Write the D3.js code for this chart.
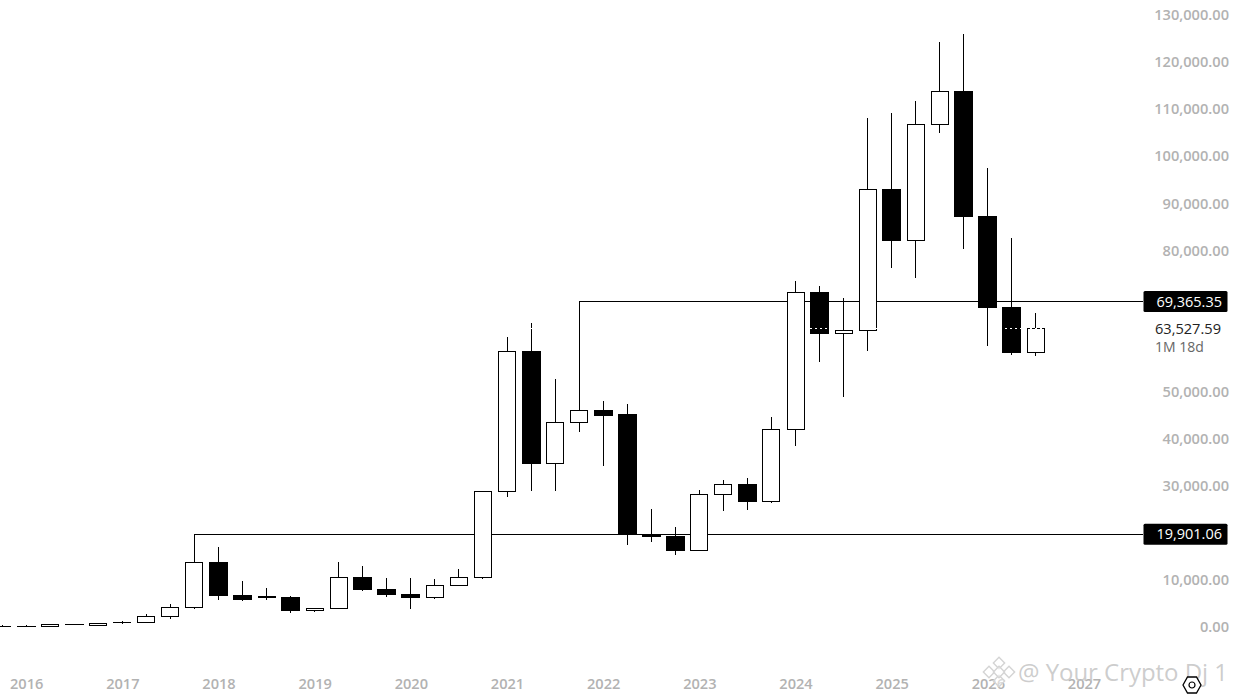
<!DOCTYPE html>
<html>
<head>
<meta charset="utf-8">
<title>BTC quarterly</title>
<script src="https://cdn.jsdelivr.net/npm/d3@7"></script>
<style>
html, body { margin: 0; padding: 0; background: #fff; overflow: hidden; }
svg { display: block; font-family: "Open Sans", sans-serif; }
.axis text { fill: #b2b2b2; font-size: 14.6px; font-weight: 600; font-family: "Open Sans", sans-serif; }
.axis path, .axis line { display: none; }
</style>
</head>
<body>
<div id="chart"></div>
<script>
// quarters as decimal years, one per candle
var periods = [2015.75, 2016, 2016.25, 2016.5, 2016.75, 2017, 2017.25, 2017.5, 2017.75,
	2018, 2018.25, 2018.5, 2018.75, 2019, 2019.25, 2019.5, 2019.75,
	2020, 2020.25, 2020.5, 2020.75, 2021, 2021.25, 2021.5, 2021.75,
	2022, 2022.25, 2022.5, 2022.75, 2023, 2023.25, 2023.5, 2023.75,
	2024, 2024.25, 2024.5, 2024.75, 2025, 2025.25, 2025.5, 2025.75,
	2026, 2026.25, 2026.5];
var opens = [330, 370, 300, 760, 520, 1190, 1125, 2484, 4395,
	13950, 6900, 6390, 6580, 3690, 4180, 10760, 8130,
	7190, 6410, 9130, 10770, 29000, 58740, 34880, 43670,
	46220, 45430, 19810, 19530, 16500, 28380, 30480, 26810,
	42250, 71270, 62480, 63200, 93250, 82370, 107000, 114000,
	87470, 68000, 58500];
var highs = [570, 570, 700, 780, 998, 1480, 2900, 5030, 19901.06,
	17130, 9980, 8430, 6800, 4200, 13950, 13100, 10550,
	10550, 10330, 12460, 29200, 61720, 64900, 52860, 69365.35,
	48200, 47550, 25260, 21380, 29300, 31420, 31780, 44800,
	73670, 72610, 70060, 108270, 109330, 111880, 124400, 126100,
	97660, 82800, 66870];
var lows = [320, 330, 300, 740, 520, 900, 1060, 1975, 4100,
	6000, 5800, 5900, 3200, 3300, 4000, 7850, 6640,
	4100, 6220, 9000, 10470, 27800, 29080, 29080, 41670,
	34460, 17690, 18320, 15560, 16500, 24900, 25120, 26600,
	38640, 56540, 49100, 58870, 76430, 74300, 105100, 80460,
	59870, 57900, 57750];
var closes = [370, 340, 700, 740, 980, 1230, 2484, 4395, 13950,
	6900, 6150, 6626, 3690, 4180, 10760, 8130, 7190,
	6410, 9130, 10770, 29000, 58740, 34880, 43670, 46220,
	45220, 19890, 19380, 16410, 28380, 30510, 26810, 42250,
	71270, 62480, 63200, 93250, 82370, 107000, 114000, 87470,
	68000, 58450, 63527.59];

var priceTicks = [0, 10000, 30000, 40000, 50000, 80000, 90000, 100000, 110000, 120000, 130000];
var yearTicks = [2016, 2017, 2018, 2019, 2020, 2021, 2022, 2023, 2024, 2025, 2026, 2027];

// the two highs that get a horizontal line and a label on the scale
var levels = [
	{ start: 2017.75, price: 19901.06 },
	{ start: 2021.75, price: 69365.35 }
];
var lastPrice = 63527.59;
var countdown = "1M 18d";
var watermark = "@ Your Crypto Dj 1";

var width = 1237;
var height = 697;
var scaleX = 1143; // left edge of the price labels

var fmt = d3.format(",.2f");

var x = d3.scaleLinear().domain([2016, 2027]).range([26.2, 1084]);
var y = d3.scaleLinear().domain([0, 130000]).range([628, 16.1]);

var svg = d3.select("#chart").append("svg")
	.attr("width", width)
	.attr("height", height);

// level lines sit behind the candles
svg.selectAll(".level")
	.data(levels)
	.enter().append("line")
	.attr("class", "level")
	.attr("x1", function(d) { return x(d.start); })
	.attr("x2", scaleX)
	.attr("y1", function(d) { return y(d.price); })
	.attr("y2", function(d) { return y(d.price); })
	.attr("stroke", "#000")
	.attr("shape-rendering", "crispEdges");

var candles = svg.selectAll(".candle")
	.data(periods)
	.enter().append("g")
	.attr("class", "candle")
	.attr("shape-rendering", "crispEdges");

candles.append("line")
	.attr("x1", function(d) { return x(d); })
	.attr("x2", function(d) { return x(d); })
	.attr("y1", function(d, i) { return y(highs[i]); })
	.attr("y2", function(d, i) { return y(lows[i]); })
	.attr("stroke", "#000");

candles.append("rect")
	.attr("x", function(d, i) { return x(d) - (closes[i] >= opens[i] ? 8.5 : 9); })
	.attr("width", function(d, i) { return closes[i] >= opens[i] ? 17 : 18; })
	.attr("y", function(d, i) { return y(Math.max(opens[i], closes[i])); })
	.attr("height", function(d, i) { return Math.abs(y(opens[i]) - y(closes[i])); })
	.attr("fill", function(d, i) { return closes[i] >= opens[i] ? "#fff" : "#000"; })
	.attr("stroke", "#000");

// white dotted last price line, only shows where it crosses something black
svg.append("line")
	.attr("x1", 0)
	.attr("x2", scaleX)
	.attr("y1", y(lastPrice))
	.attr("y2", y(lastPrice))
	.attr("stroke", "#fff")
	.attr("stroke-dasharray", "2,3")
	.attr("shape-rendering", "crispEdges");

svg.append("g")
	.attr("class", "axis")
	.attr("transform", "translate(1229,-1)")
	.call(d3.axisLeft(y).tickValues(priceTicks).tickFormat(fmt).tickSize(0).tickPadding(0));

svg.append("g")
	.attr("class", "axis")
	.attr("transform", "translate(0,679)")
	.call(d3.axisBottom(x).tickValues(yearTicks).tickFormat(d3.format("d")).tickSize(0).tickPadding(0));

// black price tags
var tags = svg.selectAll(".tag")
	.data(levels)
	.enter().append("g")
	.attr("class", "tag")
	.attr("transform", function(d) { return "translate(" + scaleX + "," + y(d.price) + ")"; });

tags.append("rect")
	.attr("x", 0.5)
	.attr("y", -10.5)
	.attr("width", 84)
	.attr("height", 21)
	.attr("rx", 1.5)
	.attr("fill", "#000");

tags.append("text")
	.attr("x", 79)
	.attr("dy", "0.35em")
	.attr("text-anchor", "end")
	.attr("fill", "#fff")
	.attr("font-size", 14.5)
	.attr("font-weight", 500)
	.text(function(d) { return fmt(d.price); });

svg.append("text")
	.attr("x", 1221)
	.attr("y", y(lastPrice))
	.attr("dy", "0.35em")
	.attr("text-anchor", "end")
	.attr("fill", "#222")
	.attr("font-size", 14.6)
	.text(fmt(lastPrice));

svg.append("text")
	.attr("x", 1155)
	.attr("y", y(lastPrice) + 18)
	.attr("dy", "0.35em")
	.attr("fill", "#666")
	.attr("font-size", 14)
	.text(countdown);

// watermark logo, five diamonds
var logo = svg.append("g")
	.attr("transform", "translate(999,672)")
	.attr("fill", "#fff")
	.attr("fill-opacity", 0.5)
	.attr("stroke", "#d4d4d4")
	.attr("stroke-width", 1.4);

logo.selectAll("rect")
	.data([[0, -9], [-10, 0], [10, 0], [0, 9], [0, 0]])
	.enter().append("rect")
	.attr("x", -4)
	.attr("y", -4)
	.attr("width", 8)
	.attr("height", 8)
	.attr("transform", function(d) { return "translate(" + d[0] + "," + d[1] + ") rotate(45)"; });

svg.append("text")
	.attr("x", 1018)
	.attr("y", 681)
	.attr("fill", "#c4c4c4")
	.attr("fill-opacity", 0.85)
	.attr("font-size", 24)
	.attr("textLength", 210)
	.text(watermark);

// settings hexagon in the corner
var hexPoints = [[-9, 0], [-4.5, -8], [4.5, -8], [9, 0], [4.5, 8], [-4.5, 8]];
var hex = svg.append("g").attr("transform", "translate(1192,685)");
hex.append("path")
	.attr("d", d3.line().curve(d3.curveLinearClosed)(hexPoints))
	.attr("fill", "#fff")
	.attr("stroke", "#000")
	.attr("stroke-width", 1.3);
hex.append("circle")
	.attr("r", 3)
	.attr("fill", "none")
	.attr("stroke", "#000")
	.attr("stroke-width", 1.2);
</script>
</body>
</html>
